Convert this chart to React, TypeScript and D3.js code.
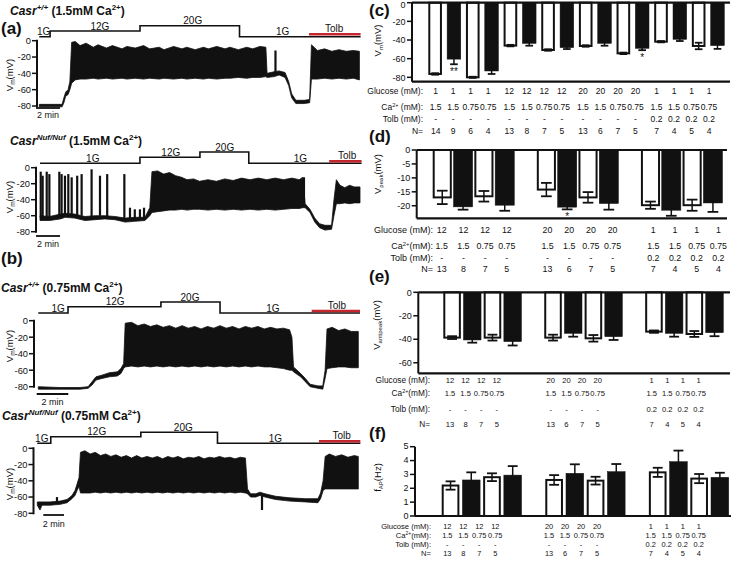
import React from "react";
import * as d3 from "d3";

const W = 739;
const H = 566;
const FONT = "'Liberation Sans', Arial, Helvetica, sans-serif";
const RED = "#c4262e";
const INK = "#111";

// ---------------- Trace data (time in min, [t, lower mV, upper mV]) ----------------
const envA1 = [
  [0,-81,-78],[1.9,-81,-78],[2.05,-76,-70],[2.2,-68,-63],[2.4,-66,-60],[2.55,-60,-50],[2.7,-52,-2],[3.0,-48,-1],
  [3.4,-47,-6],[3.9,-47,-3],[4.5,-46,-8],[4.9,-47,-5],[5.6,-46,-9],[6.1,-47,-6],[6.9,-46,-10],[7.3,-47,-7],
  [8.0,-46,-9],[8.7,-47,-6],[9.2,-46,-10],[10,-47,-8],[10.4,-46,-11],[11.2,-47,-7],[11.9,-46,-10],[12.3,-47,-8],
  [13,-46,-11],[13.7,-47,-8],[14.1,-46,-10],[14.8,-47,-7],[15.5,-46,-10],[15.9,-46,-8],[16.6,-45,-11],[17.3,-46,-8],
  [17.8,-45,-10],[18.4,-45,-7],[18.9,-44,-8],[19.0,-45,-40],[19.6,-44,-38],[20.0,-42,-37],[20.5,-45,-39],
  [20.8,-55,-50],[21.05,-70,-65],[21.4,-77,-73],[22.1,-77,-73],[22.55,-76,-72],[22.7,-47,-5],[23.2,-47,-12],
  [23.8,-46,-10],[24.4,-47,-13],[25.0,-46,-11],[25.6,-47,-13],[26.2,-46,-12],[26.7,-48,-13],
];
const spikesA1 = [[19.7,-40,-12]];
const protoA1 = [[0,"1G"],[0.9,"12G"],[8.4,"20G"],[16.7,"1G"],[26.8,"1G"]];
const protoLabelsA1 = [["1G",0.37,"1G"],["12G",5.06,"12G"],["20G",12.8,"20G"],["1G",20.3,"1G"],["Tolb",24.6,"Tolb"]];
const tolbA1 = [22.5, 26.8];

const envA2 = [
  [0,-66,-60],[0.8,-66,-61],[1.7,-64,-58],[2.1,-62,-57],[2.9,-63,-58],[3.75,-66,-61],[4.6,-65,-60],[5.4,-64,-60],
  [6.25,-65,-61],[7.1,-68,-63],[7.9,-67,-62],[8.75,-66,-62],[9.15,-60,-50],[9.33,-56,-5],[9.8,-55,-4],[10.3,-54,-8],
  [10.8,-53,-6],[11.3,-53,-10],[11.8,-52,-12],[12.25,-53,-15],[12.8,-52,-14],[13.3,-52,-17],[14,-53,-15],
  [14.7,-52,-17],[15.4,-53,-14],[16.1,-52,-16],[16.8,-53,-13],[17.5,-52,-15],[18.2,-53,-13],[18.9,-52,-15],
  [19.6,-53,-13],[20.3,-52,-15],[21,-51,-13],[21.6,-51,-15],[21.9,-50,-12],[22.1,-50,-45],[22.5,-56,-52],
  [22.9,-68,-63],[23.3,-75,-70],[23.75,-78,-72],[24.3,-77,-72],[24.5,-60,-40],[24.7,-45,-15],[25.0,-45,-22],
  [25.4,-44,-25],[25.8,-45,-22],[26.2,-44,-24],[26.67,-44,-24],
];
const spikesA2 = [
  [0.06,-62,-5],[0.22,-62,-10],[0.56,-62,-5],[0.78,-62,-8],[1.61,-60,-5],[1.8,-60,-8],[2.08,-58,-10],[2.36,-58,-8],
  [2.64,-58,-12],[3.1,-60,-10],[3.47,-60,-8],[4.3,-62,-2],[5.0,-60,-10],[5.6,-62,-8],[7.03,-64,-8],
  [7.5,-64,-50],[7.9,-64,-52],[8.33,-64,-52],[8.67,-64,-50],[22.0,-48,-12],
];
const protoA2 = [[0,"1G"],[8.33,"12G"],[13.33,"20G"],[17.4,"1G"],[26.8,"1G"]];
const protoLabelsA2 = [["1G",4.4,"1G"],["12G",10.9,"12G"],["20G",15.4,"20G"],["1G",21.7,"1G"],["Tolb",25.6,"Tolb"]];
const tolbA2 = [24.1, 26.8];

const envB1 = [
  [0,-83,-80],[1.37,-83,-81],[2.64,-83,-81],[3.15,-82,-80],[3.4,-78,-74],[3.65,-72,-68],[4.03,-70,-66],[4.5,-68,-63],
  [5.0,-67,-62],[5.23,-64,-58],[5.4,-58,-52],[5.5,-56,-3],[5.9,-55,-2],[6.3,-56,-6],[6.7,-55,-4],[7.1,-56,-7],
  [7.5,-55,-5],[7.9,-56,-8],[8.3,-55,-6],[8.7,-56,-9],[9.1,-55,-6],[9.5,-56,-9],[9.9,-55,-7],[10.3,-56,-10],
  [10.7,-55,-7],[11.1,-56,-9],[11.5,-55,-6],[11.9,-56,-9],[12.3,-55,-7],[12.7,-56,-10],[13.1,-55,-7],[13.5,-56,-9],
  [13.9,-55,-7],[14.3,-56,-10],[14.7,-56,-8],[15.1,-57,-10],[15.5,-58,-9],[15.9,-60,-11],[16.05,-60,-20],
  [16.15,-62,-56],[16.6,-68,-64],[16.9,-74,-70],[17.2,-80,-77],[17.7,-82,-79],[18.0,-83,-79],[18.15,-70,-60],
  [18.27,-58,-10],[18.6,-57,-8],[19.0,-56,-12],[19.4,-56,-10],[19.8,-57,-13],[20.25,-57,-13],
];
const spikesB1: number[][] = [];
const protoB1 = [[0,"1G"],[1.88,"12G"],[7.76,"20G"],[11.5,"1G"],[20.36,"1G"]];
const protoLabelsB1 = [["1G",1.25,"1G"],["12G",4.86,"12G"],["20G",9.6,"20G"],["1G",14.85,"1G"],["Tolb",18.9,"Tolb"]];
const tolbB1 = [17.3, 20.36];

const envB2 = [
  [0,-70,-66],[0.26,-76,-66],[0.45,-70,-66],[1.23,-70,-66],[2.2,-69,-65],[2.87,-67,-63],[3.35,-62,-58],[3.64,-58,-52],
  [3.84,-52,-44],[4.03,-47,-36],[4.17,-55,-5],[4.6,-55,-3],[5.1,-55,-7],[5.6,-54,-5],[6.1,-55,-9],[6.6,-54,-7],
  [7.1,-55,-10],[7.6,-54,-8],[8.1,-55,-11],[8.6,-54,-9],[9.1,-55,-12],[9.6,-54,-9],[10.1,-55,-12],[10.6,-54,-10],
  [11.1,-55,-12],[11.6,-54,-10],[12.1,-55,-13],[12.6,-54,-10],[13.1,-55,-12],[13.6,-54,-10],[14.1,-55,-13],
  [14.6,-54,-11],[15.1,-55,-12],[15.6,-54,-10],[16.1,-55,-13],[16.6,-54,-11],[17.1,-55,-12],[17.6,-54,-10],
  [18.1,-55,-12],[18.6,-54,-11],[19.1,-55,-13],[19.6,-54,-11],[20.1,-55,-12],[20.3,-56,-50],[20.6,-60,-56],
  [21.1,-60,-56],[21.5,-58,-54],[22,-60,-56],[23,-63,-59],[24.4,-65,-61],[25.9,-66,-62],[27.1,-67,-62],
  [27.36,-62,-55],[27.6,-52,-40],[27.8,-50,-10],[28.2,-50,-7],[28.8,-50,-10],[29.4,-50,-8],[30.0,-50,-11],
  [30.6,-50,-9],[31.0,-50,-10],
];
const spikesB2 = [[1.9,-66,-60],[21.7,-58,-76]];
const protoB2 = [[0,"1G"],[1.3,"12G"],[10,"20G"],[17.4,"1G"],[31.2,"1G"]];
const protoLabelsB2 = [["1G",0.43,"1G"],["12G",5.74,"12G"],["20G",14.1,"20G"],["1G",23,"1G"],["Tolb",29.4,"Tolb"]];
const tolbB2 = [27.2, 31.2];

const traceTicks = [0, -20, -40, -60, -80];

// ---------------- Bar chart data ----------------
const glucoseC = ["1","1","1","1","12","12","12","12","20","20","20","20","1","1","1","1"];
const caC = ["1.5","1.5","0.75","0.75","1.5","1.5","0.75","0.75","1.5","1.5","0.75","0.75","1.5","1.5","0.75","0.75"];
const tolbC = ["-","-","-","-","-","-","-","-","-","-","-","-","0.2","0.2","0.2","0.2"];
const nC = ["14","9","6","4","13","8","7","5","13","6","7","5","7","4","5","4"];
const vmMean = [-76.4,-60.5,-80,-73.2,-46,-43.6,-50.7,-48.2,-46.4,-43.6,-54.3,-48.9,-41.8,-39.3,-46.4,-46];
const vmErr = [0.8,5.5,0.6,3.2,0.8,2.5,0.8,1.5,0.8,2.5,0.8,2,0.7,1.8,3.5,3.5];
const vmStars = ["","**","","","","","","","","","","*","","","",""];

const glucose12 = ["12","12","12","12","20","20","20","20","1","1","1","1"];
const ca12 = ["1.5","1.5","0.75","0.75","1.5","1.5","0.75","0.75","1.5","1.5","0.75","0.75"];
const tolb12 = ["-","-","-","-","-","-","-","-","0.2","0.2","0.2","0.2"];
const n12 = ["13","8","7","5","13","6","7","5","7","4","5","4"];

const vpeakMean = [-17,-20.4,-16.6,-19.8,-14.2,-20.5,-17,-19.2,-19.8,-21.6,-19.8,-19];
const vpeakErr = [2.4,1,1.9,2,2.4,0.8,1.9,2.2,1.3,2,2,3.2];
const vpeakStars = ["","","","","","*","","","","","",""];

const vantiMean = [-38.6,-40.6,-38.6,-42,-38.6,-35,-39.2,-37.8,-33.5,-35,-35.5,-34.4];
const vantiErr = [1.2,2.3,2.5,3.3,2.5,2.8,2.8,2.8,1,2.8,2.5,3];

const fapMean = [2.2,2.6,2.8,2.95,2.6,3.08,2.55,3.2,3.15,3.92,2.7,2.79];
const fapErr = [0.3,0.55,0.28,0.65,0.35,0.65,0.28,0.55,0.33,0.8,0.33,0.33];

// ---------------- Components ----------------
function Title({ x, y, geno, ca }: any) {
  return (
    <text x={x} y={y} fontFamily={FONT} fontWeight="bold" fontSize={12} fill={INK}>
      <tspan fontStyle="italic">Casr</tspan>
      <tspan fontStyle="italic" fontSize={8} dy={-5}>{geno}</tspan>
      <tspan dy={5}>{` (${ca}mM Ca`}</tspan>
      <tspan fontSize={8} dy={-5}>2+</tspan>
      <tspan dy={5}>)</tspan>
    </text>
  );
}

function PanelLetter({ x, y, t }: any) {
  return (
    <text x={x} y={y} fontFamily={FONT} fontWeight="bold" fontSize={17} fill={INK}>{t}</text>
  );
}

function Trace({ cfg }: any) {
  const x = d3.scaleLinear().domain([0, cfg.tMax]).range(cfg.xRange);
  const y = d3.scaleLinear().domain([-80, 0]).range([cfg.yBottom, cfg.yTop]);
  const area = d3.area<number[]>().x((d) => x(d[0])).y0((d) => y(d[1])).y1((d) => y(d[2]));
  const protoY = d3.scaleOrdinal<string, number>().domain(["1G", "12G", "20G", "Tolb"]).range(cfg.protoLevels);
  const stepLine = d3.line<any[]>().x((d) => x(d[0])).y((d) => protoY(d[1])).curve(d3.curveStepAfter);
  const barLen = x(2) - x(0);
  return (
    <g>
      <path d={stepLine(cfg.proto) || ""} fill="none" stroke={INK} strokeWidth={1.6} />
      <line x1={x(cfg.tolb[0])} x2={x(cfg.tolb[1])} y1={protoY("Tolb")} y2={protoY("Tolb")} stroke={RED} strokeWidth={2.6} />
      {cfg.labels.map((l: any, i: number) => (
        <text key={i} x={x(l[1])} y={protoY(l[2]) - (l[2] === "Tolb" ? 2.5 : 1.5)} textAnchor="middle"
          fontFamily={FONT} fontSize={10} fill={INK}>{l[0]}</text>
      ))}
      <path d={area(cfg.env) || ""} fill={INK} stroke={INK} strokeWidth={0.8} />
      {cfg.spikes.map((s: number[], i: number) => (
        <line key={i} x1={x(s[0])} x2={x(s[0])} y1={y(s[1])} y2={y(s[2])} stroke={INK} strokeWidth={2.2} />
      ))}
      <line x1={cfg.axisX} x2={cfg.axisX} y1={y(0) - 1} y2={y(-80) + 1} stroke={INK} strokeWidth={2} />
      {traceTicks.map((t) => (
        <g key={t}>
          <line x1={cfg.axisX - 5} x2={cfg.axisX} y1={y(t)} y2={y(t)} stroke={INK} strokeWidth={1.5} />
          <text x={cfg.axisX - 6} y={y(t) + 3.3} textAnchor="end" fontFamily={FONT} fontSize={9.3} fill={INK}>{t}</text>
        </g>
      ))}
      <text transform={`translate(${cfg.yLabel[0]},${cfg.yLabel[1]}) rotate(-90)`} textAnchor="middle"
        fontFamily={FONT} fontSize={9.5} fill={INK}>
        V<tspan fontSize={6.5} dy={2}>m</tspan><tspan dy={-2}>(mV)</tspan>
      </text>
      <line x1={cfg.scaleBar[0]} x2={cfg.scaleBar[0] + barLen} y1={cfg.scaleBar[1]} y2={cfg.scaleBar[1]} stroke={INK} strokeWidth={1.8} />
      <text x={cfg.scaleBar[0] + barLen / 2} y={cfg.scaleBar[2]} textAnchor="middle" fontFamily={FONT} fontSize={9} fill={INK}>2 min</text>
    </g>
  );
}

function BarPanel({ cfg }: any) {
  const slots = cfg.slots;
  const slotOf = (i: number) => (cfg.grouped ? i + Math.floor(i / 4) : i);
  const band = d3.scaleBand<number>().domain(d3.range(slots)).range([cfg.x0, cfg.x0 + cfg.step * slots]).paddingInner(1 - cfg.bw / cfg.step).paddingOuter(0).align(0);
  const bw = band.bandwidth();
  const y = d3.scaleLinear().domain(cfg.yDomain).range(cfg.yRange);
  const labelX = (i: number) => cfg.lab[0] + Math.floor(i / 4) * cfg.lab[1] + (i % 4) * cfg.lab[2];
  const zeroY = y(0);
  const rows = [
    { head: "Glucose (mM):", vals: cfg.glucose },
    { head: "CA", vals: cfg.ca },
    { head: "Tolb (mM):", vals: cfg.tolb },
    { head: "N=", vals: cfg.n },
  ];
  const bottomY = cfg.yRange[0];
  const topY = cfg.yRange[1];
  return (
    <g>
      {cfg.mean.map((v: number, i: number) => {
        const bx = band(slotOf(i)) as number;
        const cx = bx + bw / 2;
        const white = i % 2 === 0;
        const y1 = y(v);
        const e = cfg.err[i];
        const capW = bw * 0.28;
        return (
          <g key={i}>
            <rect x={bx + (white ? 1 : 0)} y={Math.min(zeroY, y1)} width={bw - (white ? 2 : 0)} height={Math.abs(y1 - zeroY)}
              fill={white ? "#fff" : INK} stroke={INK} strokeWidth={white ? 2 : 0.5} />
            <line x1={cx} x2={cx} y1={y(v - e)} y2={y(v + e)} stroke={INK} strokeWidth={1.5} />
            <line x1={cx - capW} x2={cx + capW} y1={y(v - e)} y2={y(v - e)} stroke={INK} strokeWidth={1.8} />
            <line x1={cx - capW} x2={cx + capW} y1={y(v + e)} y2={y(v + e)} stroke={INK} strokeWidth={1.8} />
            {cfg.stars && cfg.stars[i] ? (
              <text x={cx} y={y(v - e) + 11} textAnchor="middle" fontFamily={FONT} fontSize={10} fill={INK}>{cfg.stars[i]}</text>
            ) : null}
          </g>
        );
      })}
      <line x1={cfg.axisX} x2={cfg.axisX} y1={Math.min(bottomY, topY)} y2={Math.max(bottomY, topY)} stroke={INK} strokeWidth={2} />
      <line x1={cfg.axisX} x2={cfg.right} y1={bottomY} y2={bottomY} stroke={INK} strokeWidth={2.2} />
      {cfg.topLine ? <line x1={cfg.axisX} x2={cfg.right} y1={topY} y2={topY} stroke={INK} strokeWidth={2.2} /> : null}
      {cfg.ticks.map((t: number) => (
        <g key={t}>
          <line x1={cfg.axisX - 5} x2={cfg.axisX} y1={y(t)} y2={y(t)} stroke={INK} strokeWidth={1.5} />
          <text x={cfg.axisX - 6.5} y={Math.max(y(t) + cfg.tickDy, 7.5)} textAnchor="end" fontFamily={FONT} fontSize={9} fill={INK}>{t}</text>
        </g>
      ))}
      <text transform={`translate(${cfg.yLabel[0]},${cfg.yLabel[1]}) rotate(-90)`} textAnchor="middle"
        fontFamily={FONT} fontSize={9.5} fill={INK}>
        {cfg.yName[0]}<tspan fontSize={6} dy={2}>{cfg.yName[1]}</tspan><tspan dy={-2}>{cfg.yName[2]}</tspan>
      </text>
      {rows.map((r, ri) => (
        <g key={ri}>
          <text x={cfg.headX} y={cfg.rowY[ri]} textAnchor="end" fontFamily={FONT} fontSize={cfg.fs} fill={INK}>
            {r.head === "CA" ? (
              <>Ca<tspan fontSize={cfg.fs * 0.65} dy={-3}>2+</tspan><tspan dy={3}>{cfg.caSpace ? " (mM):" : "(mM):"}</tspan></>
            ) : r.head}
          </text>
          {r.vals.map((v: string, i: number) => (
            <text key={i} x={labelX(i)} y={cfg.rowY[ri]} textAnchor="middle" fontFamily={FONT} fontSize={cfg.vfs} fill={INK}>{v}</text>
          ))}
        </g>
      ))}
    </g>
  );
}

const traceCfgs = [
  { env: envA1, spikes: spikesA1, proto: protoA1, labels: protoLabelsA1, tolb: tolbA1, tMax: 26.75, xRange: [39.3, 360],
    yTop: 40.7, yBottom: 106, axisX: 37, protoLevels: [36.7, 31, 25.7, 34.3], yLabel: [12.5, 75], scaleBar: [36, 108, 118] },
  { env: envA2, spikes: spikesA2, proto: protoA2, labels: protoLabelsA2, tolb: tolbA2, tMax: 26.67, xRange: [40, 360],
    yTop: 167.7, yBottom: 231.7, axisX: 36, protoLevels: [163.3, 157.3, 152, 161.3], yLabel: [12.5, 197], scaleBar: [36, 236, 246.5] },
  { env: envB1, spikes: spikesB1, proto: protoB1, labels: protoLabelsB1, tolb: tolbB1, tMax: 20.25, xRange: [38.3, 358.3],
    yTop: 320.7, yBottom: 386.7, axisX: 34, protoLevels: [313, 306.7, 302, 311], yLabel: [12.5, 346], scaleBar: [36.7, 394, 405] },
  { env: envB2, spikes: spikesB2, proto: protoB2, labels: protoLabelsB2, tolb: tolbB2, tMax: 31, xRange: [37.3, 358.3],
    yTop: 448.3, yBottom: 513.3, axisX: 33.5, protoLevels: [443.3, 436.7, 432.3, 441.2], yLabel: [12.5, 484], scaleBar: [43.3, 515, 526.5] },
];

const barCfgs = [
  { mean: vmMean, err: vmErr, stars: vmStars, glucose: glucoseC, ca: caC, tolb: tolbC, n: nC, grouped: false, slots: 16,
    x0: 428.3, step: 18.5, bw: 13.4, yDomain: [-84.7, 0], yRange: [81.7, 2.7], axisX: 412, right: 730, topLine: true,
    ticks: [0, -20, -40, -60, -80], yLabel: [381, 40.5], yName: ["V", "m", "(mV)"], headX: 423, rowY: [94, 109.5, 121.5, 134],
    fs: 8.5, vfs: 8.5, lab: [435.7, 73.6, 17.5], caSpace: true, tickDy: 3.2 },
  { mean: vpeakMean, err: vpeakErr, stars: vpeakStars, glucose: glucose12, ca: ca12, tolb: tolb12, n: n12, grouped: true, slots: 14,
    x0: 432.7, step: 20.7, bw: 19, yDomain: [-24.5, 0], yRange: [218.3, 150], axisX: 416.7, right: 727, topLine: true,
    ticks: [0, -5, -10, -15, -20], yLabel: [381, 174], yName: ["V", "peak", "(mV)"], headX: 433, rowY: [232.5, 249, 260.5, 272],
    fs: 9, vfs: 8.8, lab: [441.7, 105.8, 21.7], caSpace: false, tickDy: 3.2 },
  { mean: vantiMean, err: vantiErr, stars: null, glucose: glucose12, ca: ca12, tolb: tolb12, n: n12, grouped: true, slots: 14,
    x0: 443.3, step: 20, bw: 17.4, yDomain: [-69, 0], yRange: [373.3, 292.3], axisX: 418.3, right: 730, topLine: true,
    ticks: [0, -20, -40, -60], yLabel: [380, 325], yName: ["V", "antipeak", "(mV)"], headX: 430, rowY: [382.5, 396, 411.5, 426.5],
    fs: 8.3, vfs: 7.6, lab: [450, 100.85, 15.6], caSpace: false, tickDy: 3.2 },
  { mean: fapMean, err: fapErr, stars: null, glucose: glucose12, ca: ca12, tolb: tolb12, n: n12, grouped: true, slots: 14,
    x0: 441.7, step: 20.5, bw: 17.5, yDomain: [0, 5], yRange: [516, 446.7], axisX: 415, right: 731, topLine: false,
    ticks: [0, 1, 2, 3, 4, 5], yLabel: [381, 477.5], yName: ["f", "AP", "(Hz)"], headX: 431, rowY: [528.5, 537.5, 546.5, 555.5],
    fs: 7.6, vfs: 7.4, lab: [447.3, 101.7, 16], caSpace: false, tickDy: 2.6 },
];

export default function App() {
  return (
    <svg width={W} height={H} viewBox={`0 0 ${W} ${H}`} style={{ position: "absolute", left: 0, top: 0, background: "#fff" }}>
      <rect x={0} y={0} width={W} height={H} fill="#fff" />
      <Title x={10} y={15} geno="+/+" ca="1.5" />
      <Title x={10} y={144.5} geno="Nuf/Nuf" ca="1.5" />
      <Title x={1} y={292} geno="+/+" ca="0.75" />
      <Title x={2} y={420} geno="Nuf/Nuf" ca="0.75" />
      <PanelLetter x={1} y={33.5} t="(a)" />
      <PanelLetter x={1} y={264} t="(b)" />
      <PanelLetter x={369} y={16} t="(c)" />
      <PanelLetter x={369} y={142} t="(d)" />
      <PanelLetter x={369} y={282} t="(e)" />
      <PanelLetter x={369} y={439} t="(f)" />
      {traceCfgs.map((c, i) => <Trace key={i} cfg={c} />)}
      {barCfgs.map((c, i) => <BarPanel key={i} cfg={c} />)}
    </svg>
  );
}
